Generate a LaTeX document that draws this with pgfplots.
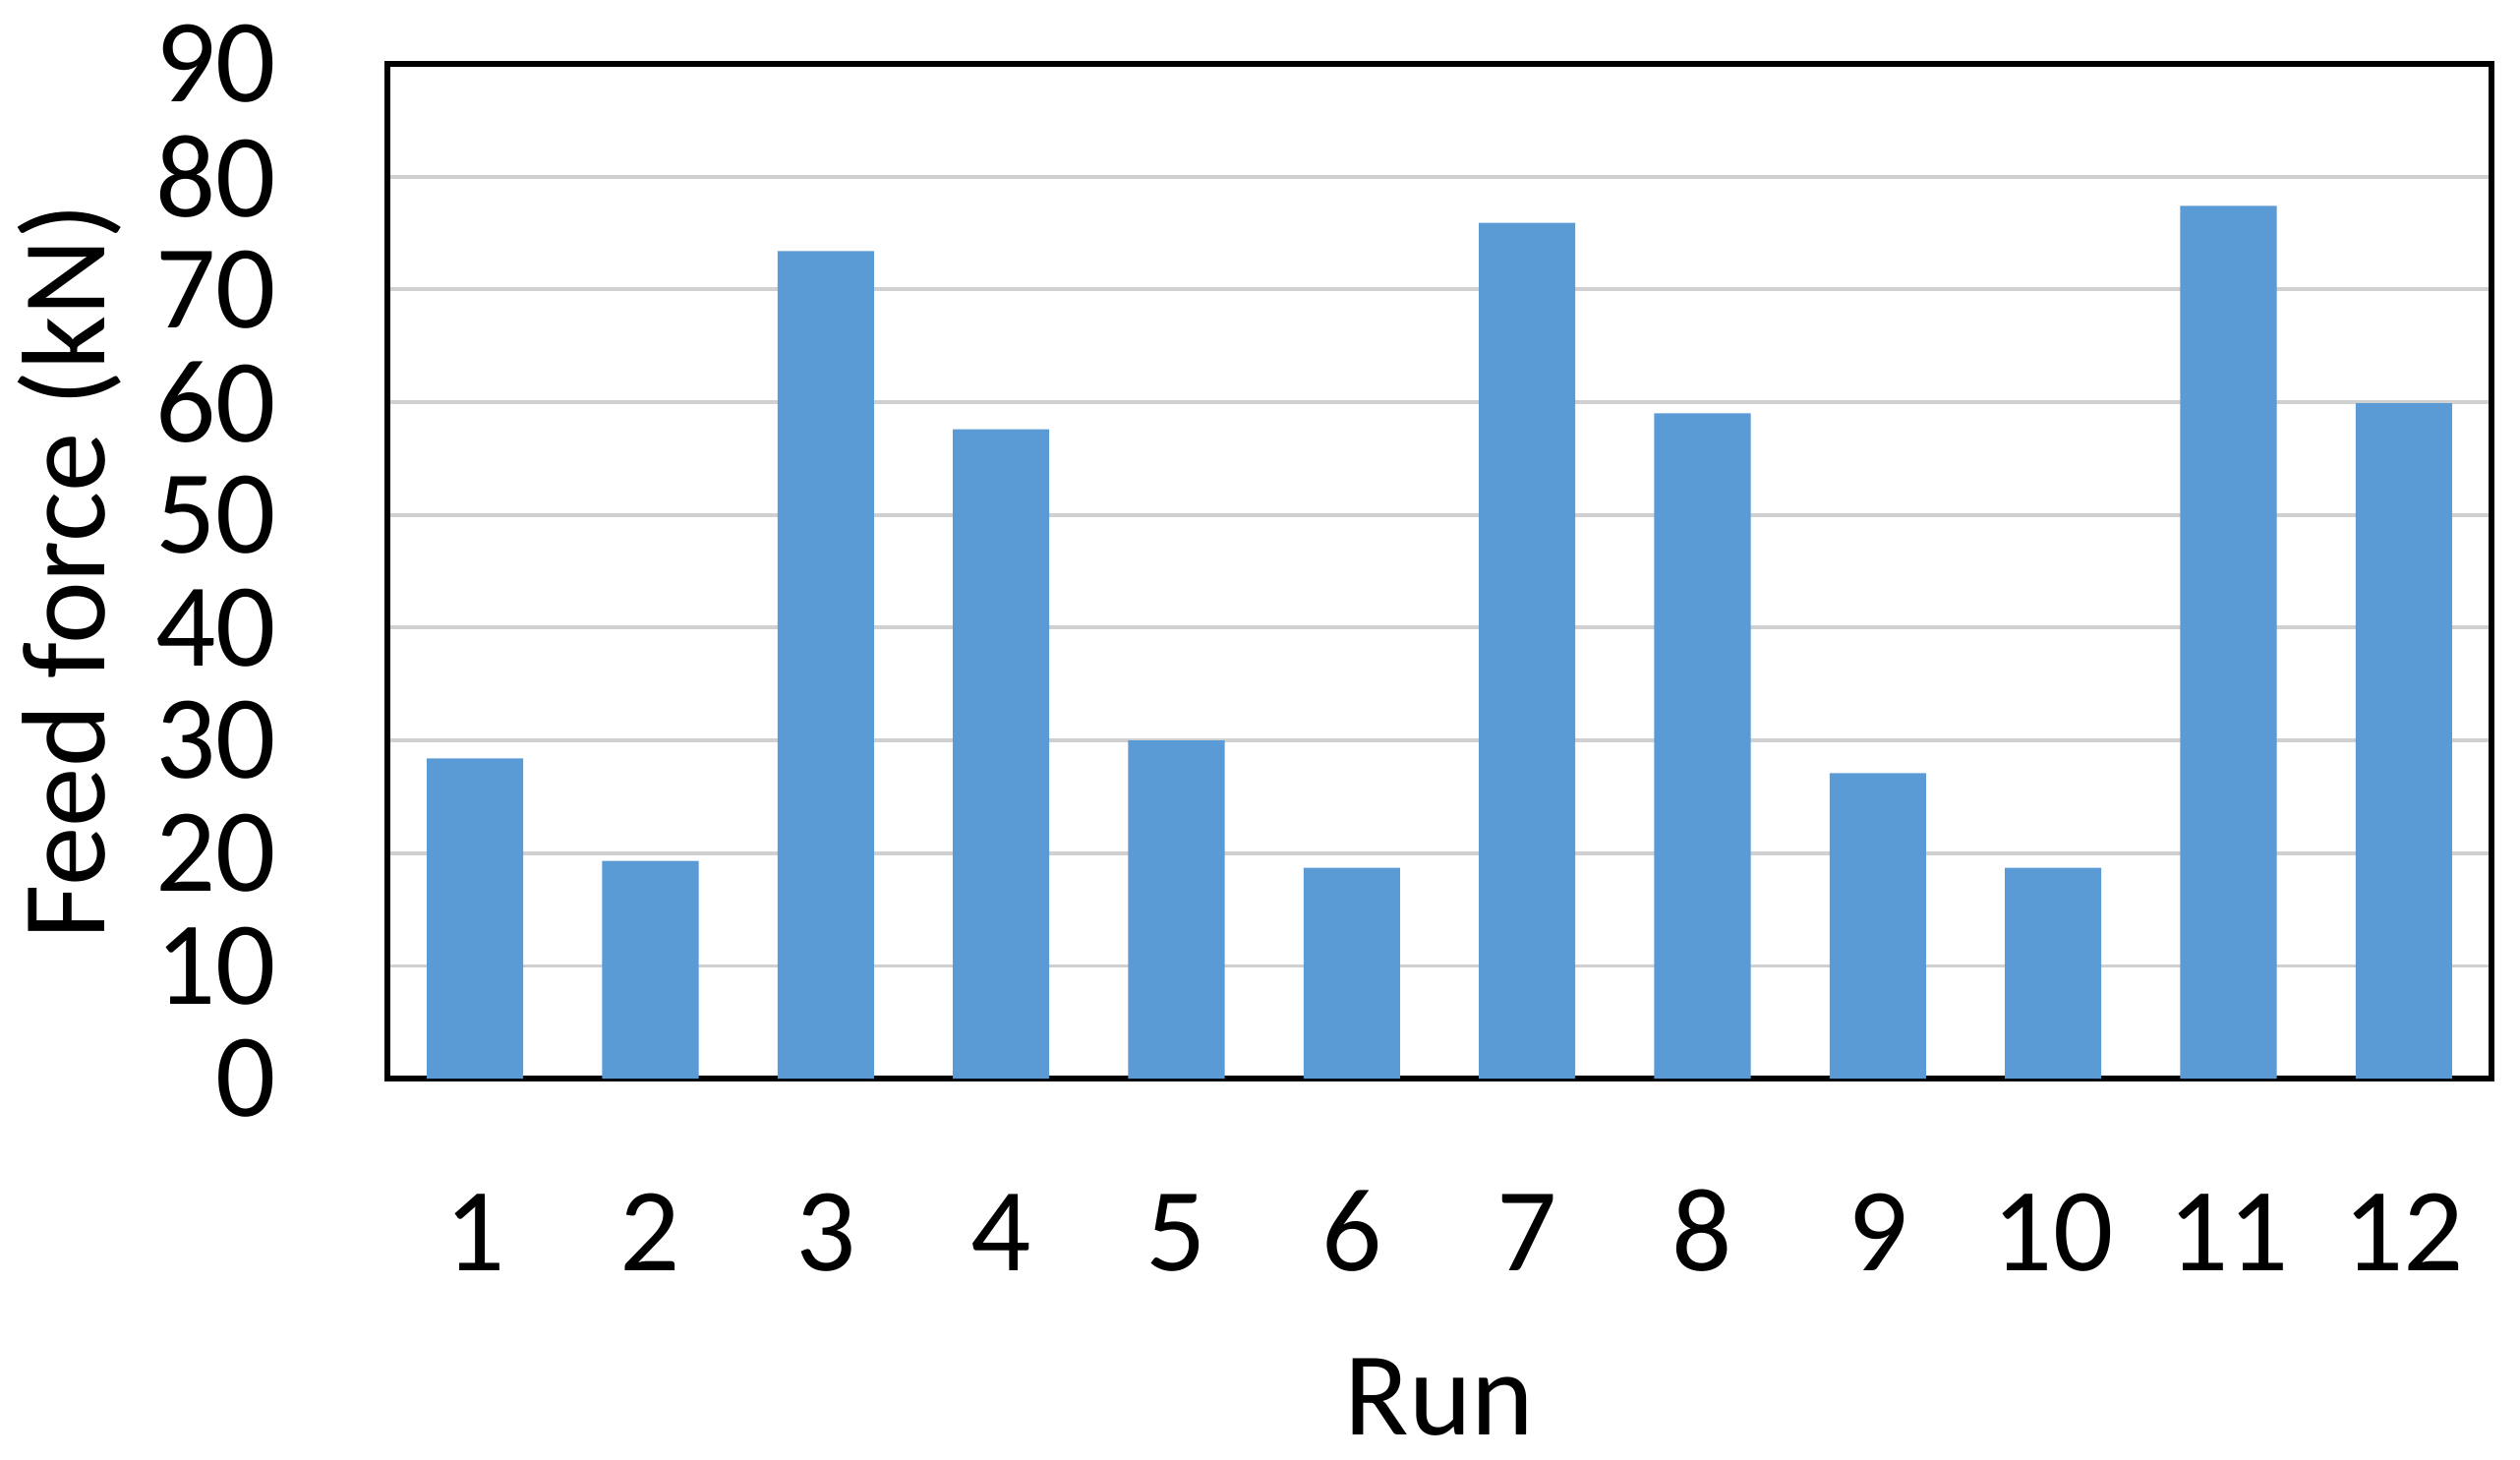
\documentclass[border=0pt]{standalone}
\usepackage{fontspec}
\setmainfont{Carlito}
\usepackage{pgfplots}
\pgfplotsset{compat=1.18}
\definecolor{barblue}{HTML}{5B9BD5}
\definecolor{gridgray}{HTML}{D0D0D0}

\begin{document}
\begin{tikzpicture}
\begin{axis}[
    set layers,
    scale only axis,
    width=513.6pt, height=247.7pt,
    xmin=0.5, xmax=12.5, ymin=0, ymax=90,
    xtick={1,...,12}, ytick={0,10,...,90},
    /pgf/number format/assume math mode=true,
    major tick length=0pt,
    tick style={draw=none},
    ymajorgrids,
    grid style={gridgray, line width=0.9pt},
    axis line style={black, line width=1.3pt, on layer=axis foreground},
    tick label style={font=\fontsize{29}{29}\selectfont},
    yticklabel style={anchor=east, inner sep=0pt, xshift=-27pt},
    xticklabel style={anchor=base, inner sep=0pt, yshift=-47pt},
    label style={font=\fontsize{29}{29}\selectfont, inner sep=0pt},
    xlabel={Run},
    xlabel style={at={(axis description cs:0.5,0)}, anchor=base, yshift=-87pt},
    ylabel={Feed force (kN)},
    ylabel style={at={(axis description cs:-0.1342,0.5)}, anchor=base},
]
\addplot[ybar, bar width=0.55, fill=barblue, draw=none] coordinates {
    (1,28.4) (2,19.3) (3,73.4) (4,57.6) (5,30.0) (6,18.7)
    (7,75.9) (8,59.0) (9,27.1) (10,18.7) (11,77.4) (12,59.9)
};
\end{axis}
\path (current axis.south west) ++(-94.56pt,-93.1pt) coordinate (bbA);
\path (current axis.north east) ++(6.96pt,15.6pt) coordinate (bbB);
\useasboundingbox (bbA) rectangle (bbB);
\end{tikzpicture}
\end{document}
